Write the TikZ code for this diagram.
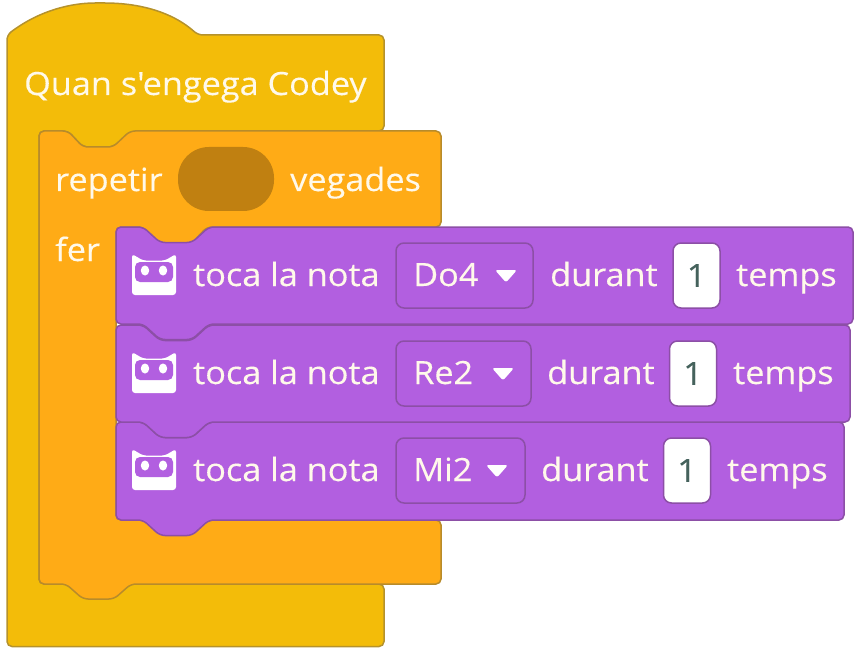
\documentclass[tikz,border=0pt]{standalone}
\usepackage{fontspec}
\setmainfont{Open Sans}[Ligatures=TeXOff,FakeStretch=1.07,FakeBold=0.25]
\definecolor{hatyellow}{HTML}{F3BC09}
\definecolor{hatline}{HTML}{B5922C}
\definecolor{looporange}{HTML}{FFAB16}
\definecolor{loopline}{HTML}{B88B2A}
\definecolor{loopslot}{HTML}{C08011}
\definecolor{notepurple}{HTML}{B25FE0}
\definecolor{noteline}{HTML}{8C4FA6}
\definecolor{onetext}{HTML}{45625C}
\definecolor{labeltext}{HTML}{FFF9EA}
\tikzset{
	hatblock/.style={fill=hatyellow,draw=hatline,line width=1.5pt,rounded corners=5pt},
	loopblock/.style={fill=looporange,draw=loopline,line width=1.5pt,rounded corners=5pt},
	noteblock/.style={fill=notepurple,draw=noteline,line width=1.5pt,rounded corners=5pt},
	blocklabel/.style={anchor=base west,inner sep=0pt,text=labeltext,font=\fontsize{32}{32}\selectfont},
	notefield/.style={draw=noteline,line width=1.5pt,rounded corners=8pt,inner sep=0pt,minimum height=65pt},
	onefield/.style={draw=noteline,fill=white,line width=1.5pt,rounded corners=8pt,inner sep=0pt,minimum width=47pt,minimum height=65pt,text=onetext,font=\fontsize{32}{32}\selectfont},
	codeyicon/.pic={
		\fill[white,rounded corners=3pt] (132,-1) -- (143,5.5) -- (165,5.5) -- (176,-1) -- (176,40) -- (132,40) -- cycle;
		\fill[notepurple,rounded corners=5pt] (135,7) rectangle (173,27);
		\fill[white] (145,15.5) ellipse (4.2pt and 5pt);
		\fill[white] (163,15.5) ellipse (4.2pt and 5pt);
	}
}
% one purple stack block: left, top, right, bottom
\newcommand{\noteshape}[4]{
	\draw[noteblock] (#1,#2) -- ({#1+27},#2) -- ({#1+44},{#2+15.5}) -- ({#1+76},{#2+15.5}) -- ({#1+93},#2) -- (#3,#2) -- (#3,#4) -- ({#1+93},#4) -- ({#1+76},{#4+15.5}) -- ({#1+44},{#4+15.5}) -- ({#1+27},#4) -- (#1,#4) -- cycle;
}
\begin{document}
\begin{tikzpicture}[x=1pt,y=-1pt]
	\useasboundingbox (0,0) rectangle (860,650);

	% hat block
	\draw[hatblock] (7,35) .. controls (40,10) and (72,3) .. (100,3) .. controls (135,3) and (170,10) .. (198,35) -- (384,35) -- (384,131) -- (133,131) -- (113,147) -- (83,147) -- (68,131) -- (39,131) -- (39,584) -- (384,584) -- (384,646.5) -- (7,646.5) -- cycle;
	\node[blocklabel] (hatlabel) at (24,95) {Quan s'engega Codey};

	% repeat block
	\draw[loopblock] (39,131) -- (68,131) -- (83,147) -- (113,147) -- (130,131) -- (441,131) -- (441,227) -- (207,227) -- (192,243) -- (160,243) -- (143,227) -- (116,227) -- (116,520) -- (441,520) -- (441,584) -- (131,584) -- (114,599) -- (83,599) -- (66,584) -- (39,584) -- cycle;
	\node[blocklabel] (repeatlabel) at (55,191) {repetir};
	\node[fill=loopslot,rounded corners=31pt,minimum width=96pt,minimum height=64pt,inner sep=0pt] (repeatslot) at (226,179) {};
	\node[blocklabel] (timeslabel) at (290,191) {vegades};
	\node[blocklabel] (dolabel) at (55,261) {fer};

	% note blocks, lowest first so each notch lies over the next
	\noteshape{116}{422}{844}{520}
	\noteshape{116}{325}{850}{422}
	\noteshape{116}{227}{853}{324}

	\pic at (0,255) {codeyicon};
	\pic at (0,353) {codeyicon};
	\pic at (0,450) {codeyicon};

	\node[blocklabel] (playa) at (193,286) {toca la nota};
	\node[blocklabel] (playb) at (193,384) {toca la nota};
	\node[blocklabel] (playc) at (193,481) {toca la nota};

	\node[notefield,minimum width=137pt] (notea) at (464.5,275.5) {};
	\node[notefield,minimum width=135pt] (noteb) at (463.5,373.5) {};
	\node[notefield,minimum width=129pt] (notec) at (460.5,470.5) {};
	\node[blocklabel] at (413,286) (notenamea) {Do4};
	\node[blocklabel] at (413,384) (notenameb) {Re2};
	\node[blocklabel] at (413,481) (notenamec) {Mi2};

	\foreach \arrowx/\arrowy in {506/271,503/369,497/466}
		\fill[white,rounded corners=2.5pt] (\arrowx-11,\arrowy-1) -- (\arrowx+11,\arrowy-1) -- (\arrowx,\arrowy+11.5) -- cycle;

	\node[blocklabel] (durata) at (550,286) {durant};
	\node[blocklabel] (duratb) at (547,384) {durant};
	\node[blocklabel] (duratc) at (541,481) {durant};

	\node[onefield] (beatsa) at (696.5,275.5) {1};
	\node[onefield] (beatsb) at (693,373.5) {1};
	\node[onefield] (beatsc) at (687,470.5) {1};

	\node[blocklabel] (tempsa) at (736,286) {temps};
	\node[blocklabel] (tempsb) at (733,384) {temps};
	\node[blocklabel] (tempsc) at (727,481) {temps};
\end{tikzpicture}
\end{document}
